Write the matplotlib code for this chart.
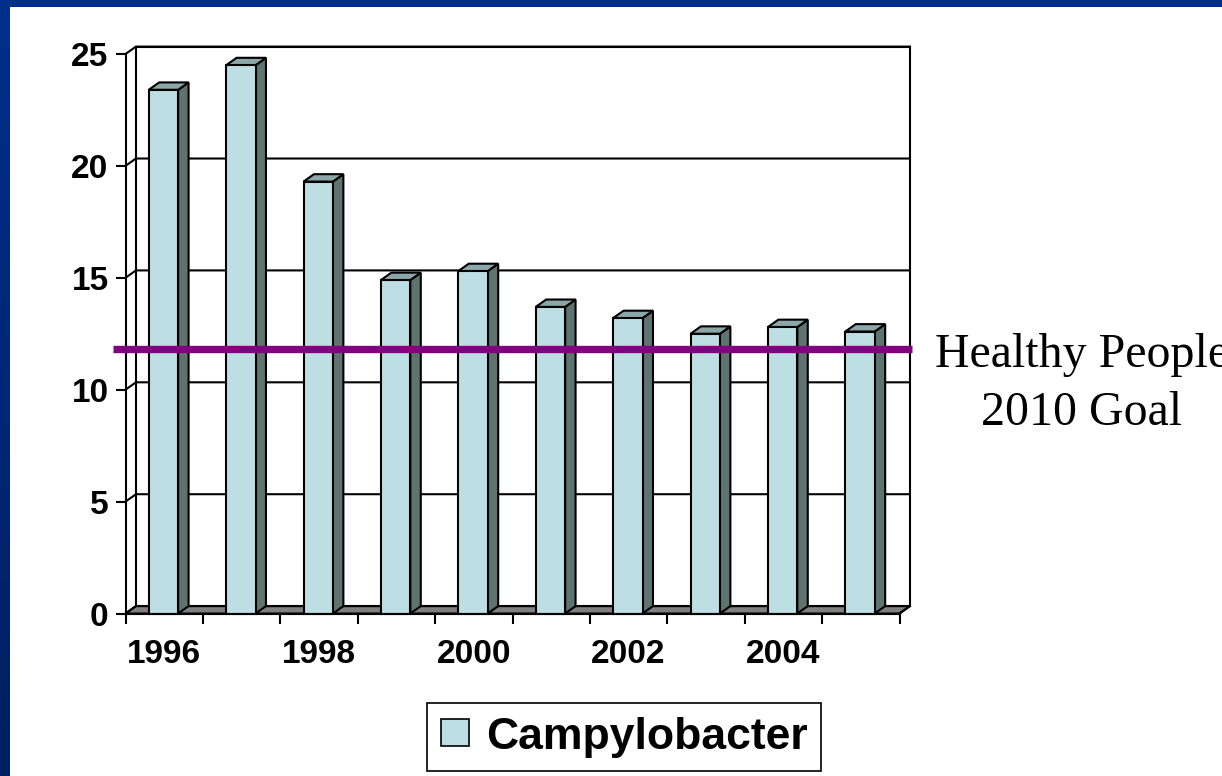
import numpy as np
import matplotlib
matplotlib.use("Agg")
from matplotlib import pyplot as plt
from matplotlib.patches import Rectangle, Polygon, Patch

years = [1996, 1997, 1998, 1999, 2000, 2001, 2002, 2003, 2004, 2005]
rates = [23.4, 24.5, 19.3, 14.9, 15.3, 13.7, 13.2, 12.5, 12.8, 12.6]
year_labels = ["1996", "1998", "2000", "2002", "2004"]
y_ticks = [0, 5, 10, 15, 20, 25]
goal = 11.8
series_name = "Campylobacter"
goal_text = ["Healthy People", "2010 Goal"]

front_col = "#bddfe3"
side_col = "#5f7470"
top_col = "#8ca7a9"
floor_col = "#808080"
goal_col = "#800080"

W, H = 1222, 776
fig = plt.figure(figsize=(W / 100, H / 100), dpi=100)

# blue slide frame (top and left bands)
bg = fig.add_axes([0, 0, 1, 1], zorder=0)
grad = np.linspace(0, 1, 256).reshape(-1, 1)
cmap = matplotlib.colors.LinearSegmentedColormap.from_list("frame", ["#002f8c", "#001f60"])
bg.imshow(grad, aspect="auto", cmap=cmap, extent=[0, 1, 0, 1], origin="upper")
bg.add_patch(Rectangle((10 / W, 0), 1, (H - 7) / H, facecolor="white", edgecolor="none",
                       transform=bg.transAxes))
bg.set_xlim(0, 1)
bg.set_ylim(0, 1)
bg.axis("off")

# main axes = front plane of the 3D box
x0, x1 = 125.5, 899.5
y0, y1 = 613.5, 54
ax = fig.add_axes([x0 / W, (H - y0) / H, (x1 - x0) / W, (y0 - y1) / H], zorder=2)
ax.set_facecolor("none")
n = len(years)
ax.set_xlim(0, n)
ax.set_ylim(0, 25)

dx, dy = 0.135, 0.33  # depth offset in data units
lw = 1.5

# floor
ax.add_patch(Polygon([(0, 0), (n, 0), (n + dx, dy), (dx, dy)], closed=True,
                     facecolor=floor_col, edgecolor="black", lw=lw, clip_on=False, zorder=1))
# back wall
ax.add_patch(Rectangle((dx, dy), n, 25, facecolor="none", edgecolor="black", lw=lw,
                       clip_on=False, zorder=1))
for t in y_ticks[1:]:
    ax.plot([0, dx, n + dx], [t, t + dy, t + dy], color="black", lw=lw, clip_on=False, zorder=1)
ax.plot([n, n + dx], [0, dy], color="black", lw=lw, clip_on=False, zorder=1)
ax.plot([0, dx], [0, dy], color="black", lw=lw, clip_on=False, zorder=1)

# bars
bl, bw = 0.30, 0.38
for i, v in enumerate(rates):
    xl = i + bl
    xr = xl + bw
    ax.add_patch(Polygon([(xr, 0), (xr + dx, dy), (xr + dx, v + dy), (xr, v)], closed=True,
                         facecolor=side_col, edgecolor="black", lw=lw, clip_on=False, zorder=3))
    ax.add_patch(Polygon([(xl, v), (xl + dx, v + dy), (xr + dx, v + dy), (xr, v)], closed=True,
                         facecolor=top_col, edgecolor="black", lw=lw, clip_on=False, zorder=3))
    ax.add_patch(Rectangle((xl, 0), bw, v, facecolor=front_col, edgecolor="black", lw=lw,
                           clip_on=False, zorder=4))

# goal line
ax.plot([-0.16, n + 0.16], [goal, goal], color=goal_col, lw=5.3, solid_capstyle="butt",
        clip_on=False, zorder=6)

# axes styling
for s in ["top", "right"]:
    ax.spines[s].set_visible(False)
for s in ["left", "bottom"]:
    ax.spines[s].set_linewidth(lw)
    ax.spines[s].set_zorder(5)
ax.set_yticks(y_ticks)
ax.set_yticklabels([str(t) for t in y_ticks])
ax.set_xticks(range(n + 1))
ax.set_xticklabels([])
ax.set_xticks([years.index(int(y)) + 0.5 for y in year_labels], minor=True)
ax.set_xticklabels(year_labels, minor=True)
ax.tick_params(axis="both", which="major", direction="out", length=7.2, width=lw)
ax.tick_params(axis="y", pad=5)
ax.tick_params(axis="x", which="minor", length=0, pad=18.5)
for lab in ax.get_yticklabels() + ax.get_xticklabels(minor=True):
    lab.set_fontfamily("Liberation Sans")
    lab.set_fontweight("bold")
    lab.set_fontsize(24)

# legend
leg = fig.legend(handles=[Patch(facecolor=front_col, edgecolor="black", lw=1.2, label=series_name)],
                 loc="center", bbox_to_anchor=(624 / W, (H - 737) / H),
                 prop={"family": "Liberation Sans", "weight": "bold", "size": 32},
                 frameon=True, fancybox=False, edgecolor="black", framealpha=1,
                 handlelength=0.63, handleheight=0.56, handletextpad=0.38, borderpad=0.3)
leg.get_frame().set_linewidth(1.2)

# goal label (runs off the right edge, as on the slide)
fig.text(1082 / W, (H - 366.7) / H, goal_text[0], ha="center", va="baseline",
         family="Liberation Serif", fontsize=34.5)
fig.text(1082 / W, (H - 425) / H, goal_text[1], ha="center", va="baseline",
         family="Liberation Serif", fontsize=34.5)

fig.savefig("out.png", dpi=100)
